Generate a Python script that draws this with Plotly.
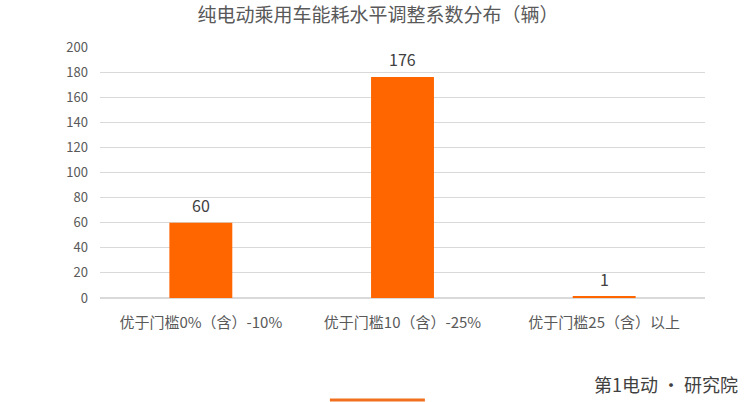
import plotly.graph_objects as go

categories = ["优于门槛0%（含）-10%", "优于门槛10（含）-25%", "优于门槛25（含）以上"]
values = [60, 176, 1]
y_ticks = [0, 20, 40, 60, 80, 100, 120, 140, 160, 180, 200]

FONT = "Noto Sans CJK SC"

fig = go.Figure()
fig.add_trace(go.Bar(
    x=categories, y=values,
    marker=dict(color="#FF6600", line=dict(width=0)),
    width=0.312,
    cliponaxis=False,
    hoverinfo="skip",
))

annotations = [
    dict(x=c, y=v, xref="x", yref="y", text=str(v), showarrow=False,
         yshift=18, yanchor="middle", xanchor="center",
         font=dict(family=FONT, size=16, color="#404040"))
    for c, v in zip(categories, values)
]
annotations.append(dict(text="第1电动 · 研究院", xref="paper", yref="paper",
                        x=1.058, y=-0.343, xanchor="right", yanchor="middle", showarrow=False,
                        font=dict(family=FONT, size=18, color="#404040")))

fig.update_layout(
    width=756, height=402,
    margin=dict(l=100, r=51, t=47, b=104),
    paper_bgcolor="white", plot_bgcolor="white",
    showlegend=False,
    title=dict(text="纯电动乘用车能耗水平调整系数分布（辆）", x=0.5, xanchor="center",
               y=0.962, yanchor="middle", yref="container",
               font=dict(family=FONT, size=19, color="#595959")),
    xaxis=dict(showgrid=False, showline=False, ticks="", zeroline=False, automargin=False,
               ticklabelstandoff=14,
               tickfont=dict(family=FONT, size=15, color="#595959")),
    yaxis=dict(range=[0, 200], tickvals=y_ticks, showgrid=True, gridcolor="#D9D9D9",
               gridwidth=1, zeroline=True, zerolinecolor="#D9D9D9", showline=False,
               ticks="", ticklen=0, automargin=False, ticklabelstandoff=11,
               tickfont=dict(family=FONT, size=13, color="#595959")),
    annotations=annotations,
    shapes=[dict(type="line", xref="paper", yref="paper", x0=0.38, x1=0.537,
                 y0=-0.406, y1=-0.406, line=dict(color="#F07020", width=3))],
)

fig.write_html("out.html", config={"displayModeBar": False},
               post_script="document.body.style.margin='0';document.body.style.overflow='hidden';")
